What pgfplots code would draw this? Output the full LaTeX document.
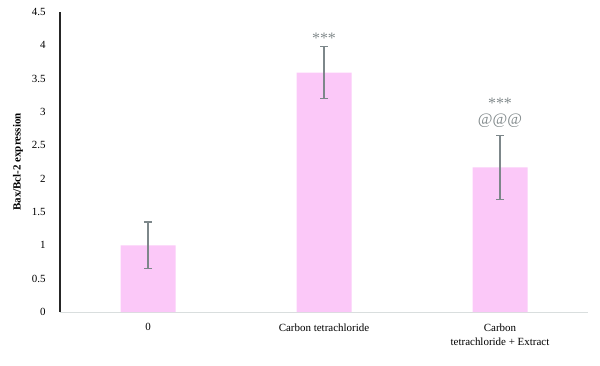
\documentclass[border=0pt]{standalone}
\usepackage{pgfplots}
\pgfplotsset{compat=1.18}
\usepackage{fontspec}
\setmainfont{Liberation Serif}
\definecolor{barpink}{RGB}{251,200,248}
\definecolor{errgray}{RGB}{125,135,138}
\definecolor{axgray}{RGB}{217,222,222}
\definecolor{annot}{RGB}{130,138,140}
\begin{document}
\begin{tikzpicture}
\useasboundingbox (0,0) rectangle (600bp,366bp);
\begin{axis}[
  at={(60bp,54bp)}, anchor=south west,
  width=528bp, height=300bp, scale only axis,
  xmin=-0.5, xmax=2.5, ymin=0, ymax=4.5,
  ytick={0,0.5,...,4.5},
  xtick={0,1,2},
  xticklabels={0,Carbon tetrachloride,{Carbon\\tetrachloride + Extract}},
  xticklabel style={align=center, anchor=north, yshift=-8bp, font=\fontsize{11}{14}\selectfont},
  yticklabel style={font=\fontsize{11}{13}\selectfont, xshift=-11bp},
  /pgf/number format/assume math mode=true,
  yticklabel={\pgfmathprintnumber[fixed,precision=1]{\tick}},
  major tick length=0pt,
  axis x line*=bottom, axis y line*=left,
  x axis line style={draw=axgray, line width=1pt, -},
  y axis line style={draw=black!85, line width=1.2pt, -},
  ylabel={\bfseries Bax/Bcl-2 expression},
  every axis y label/.style={at={(axis description cs:0,0.5)}, rotate=90, anchor=center, yshift=42bp, font=\fontsize{11}{13}\selectfont},
  clip=false,
]
\addplot[ybar, bar width=55bp, fill=barpink, draw=none,
  error bars/.cd, y dir=both, y explicit,
  error bar style={draw=errgray, line width=1.3pt},
  error mark options={draw=errgray, line width=1.3pt, mark size=4bp, rotate=90}]
  coordinates {
  (0,1.00) +- (0,0.35)
  (1,3.59) +- (0,0.39)
  (2,2.17) +- (0,0.48)
};
\node[text=annot, font=\fontsize{16}{17}\selectfont] at (axis cs:1,4.10) {***};
\node[text=annot, font=\fontsize{16}{17}\selectfont] at (axis cs:2,3.13) {***};
\node[text=annot, font=\fontsize{16}{17}\selectfont] at (axis cs:2,2.87) {@@@};
\end{axis}
\end{tikzpicture}
\end{document}
